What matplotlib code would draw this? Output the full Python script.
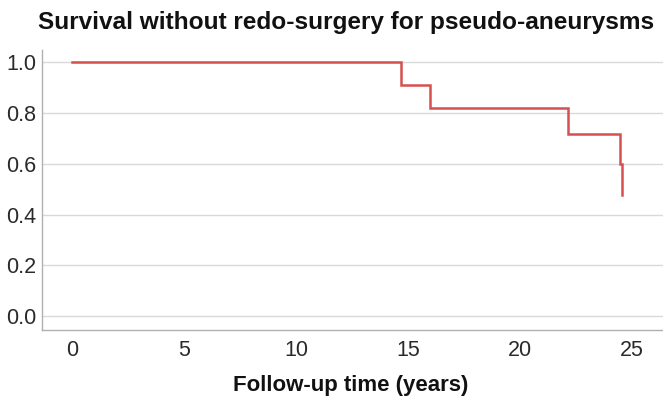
import matplotlib
matplotlib.use("Agg")
import matplotlib.pyplot as plt

# Kaplan-Meier estimate: event times (years) and survival after each event
times = [0.0, 14.69, 16.0, 22.15, 24.45, 24.57]
survival = [1.0, 0.909, 0.818, 0.716, 0.597, 0.477]

x_ticks = [0, 5, 10, 15, 20, 25]
y_ticks = [0.0, 0.2, 0.4, 0.6, 0.8, 1.0]

title = "Survival without redo-surgery for pseudo-aneurysms"
x_label = "Follow-up time (years)"

plt.rcParams["font.family"] = ["Liberation Sans", "DejaVu Sans"]

fig = plt.figure(figsize=(6.63, 3.99), dpi=100)
ax = fig.add_axes([0.0633, 0.1729, 0.9367, 0.7018])

ax.step(times, survival, where="post", color="#d65050", linewidth=1.8,
        solid_joinstyle="miter", zorder=3)

ax.set_xlim(-1.34, 26.38)
ax.set_ylim(-0.055, 1.048)
ax.set_xticks(x_ticks)
ax.set_yticks(y_ticks)
ax.set_yticklabels([f"{v:.1f}" for v in y_ticks])

ax.grid(axis="y", color="#d9d9d9", linewidth=1.0)
ax.set_axisbelow(True)
for side in ("top", "right"):
    ax.spines[side].set_visible(False)
for side in ("left", "bottom"):
    ax.spines[side].set_color("#b0b0b0")
    ax.spines[side].set_linewidth(1.0)

ax.tick_params(axis="both", length=0, labelsize=15.5, labelcolor="#2a2a2a")
ax.tick_params(axis="y", pad=4.0)
ax.tick_params(axis="x", pad=7)

fig.text(346 / 663, 1 - 23 / 399, title, ha="center", va="center",
         fontsize=17.6, fontweight="bold", color="#111111")
fig.text(351 / 663, 1 - 385 / 399, x_label, ha="center", va="center",
         fontsize=16, fontweight="bold", color="#111111")

fig.savefig("out.png", dpi=100)
